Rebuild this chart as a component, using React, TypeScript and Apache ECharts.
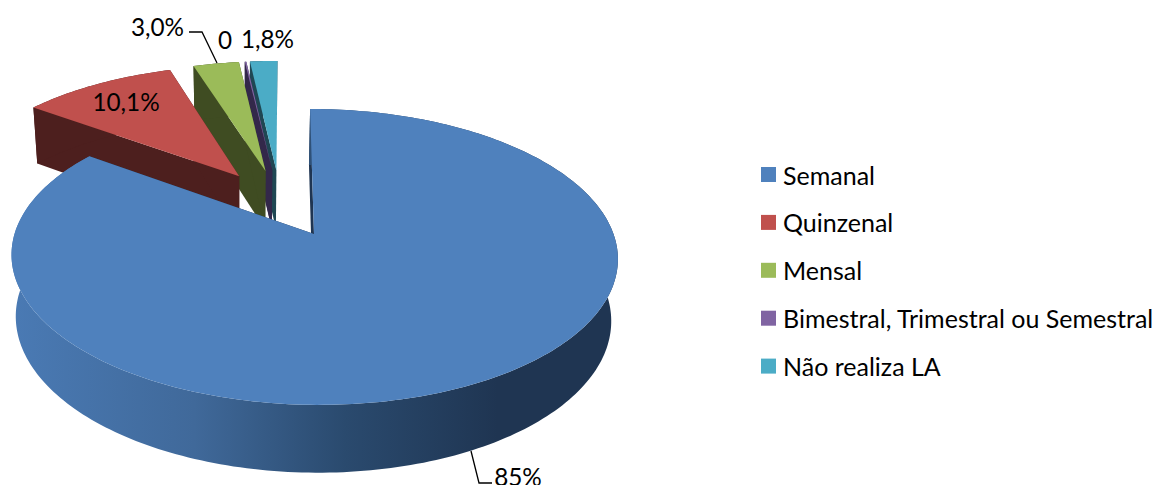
import React, { useEffect, useRef } from "react";
import * as echarts from "echarts";

const categories = ["Semanal", "Quinzenal", "Mensal", "Bimestral, Trimestral ou Semestral", "Não realiza LA"];
const values = [85, 10.1, 3.0, 0.1, 1.8];
const valueLabels = ["85%", "10,1%", "3,0%", "0", "1,8%"];

const topColors = ["#4f81bd", "#c0504d", "#9bbb59", "#8064a2", "#4bacc6"];
const wallColors = ["#1f3552", "#4d1f1e", "#3f4c22", "#33284a", "#1f4753"];

// perspective projection of the pie plane
const X0 = 314, Y0 = 234, A = 144.4, B = 299.5, D = 4.5, K = 0.155;
const EXPLODE = 0.25;
const FONT = "Lato, Carlito, Calibri, sans-serif";
const LEGEND_FONT_SIZE = 25;
const LABEL_FONT_SIZE = 24.3;

const total = values.reduce((a, b) => a + b, 0);
const starts: number[] = [];
values.reduce((acc, v, i) => { starts[i] = acc; return acc + v; }, 0);
const toRad = (pct: number) => (pct / total) * Math.PI * 2;
const dir = (t: number) => [Math.sin(t), -Math.cos(t)];
const bisector = (i: number) => toRad(starts[i] + values[i] / 2);
const anchor = dir(bisector(0));

const project = (u: number, v: number): [number, number] => {
  const w = 1 - K * v;
  return [X0 + (B * u + D * v) / w, Y0 + (A * v) / w];
};
const drop = (p: [number, number]): [number, number] => [
  p[0] + (X0 - p[0]) * 0.018 - 1.2,
  p[1] + 54 + (p[1] - 60) * 0.04,
];

const sliceShape = (i: number, value: number) => {
  const b = dir(bisector(i));
  const ou = EXPLODE * (b[0] - anchor[0]);
  const ov = EXPLODE * (b[1] - anchor[1]);
  const t0 = toRad(starts[i]);
  const t1 = t0 + toRad(value);
  const n = Math.max(2, Math.ceil((t1 - t0) / 0.02));
  const arc: [number, number][] = [];
  for (let s = 0; s <= n; s++) {
    const d = dir(t0 + ((t1 - t0) * s) / n);
    arc.push(project(ou + d[0], ov + d[1]));
  }
  return { apex: project(ou, ov), arc };
};

const renderSlice = (i: number) => (_: unknown, api: any) => {
  const { apex, arc } = sliceShape(i, api.value(0));
  const base = arc.map(drop);
  const apexB = drop(apex);
  const wallFill: any =
    i === 0
      ? new echarts.graphic.LinearGradient(12, 0, 619, 0, [
          { offset: 0, color: "#4a7ab4" },
          { offset: 0.3, color: "#40699a" },
          { offset: 0.55, color: "#2a4a6e" },
          { offset: 0.8, color: "#1f3552" },
          { offset: 1, color: "#1f3552" },
        ], true as any)
      : wallColors[i];
  const first = arc[0], last = arc[arc.length - 1];
  const radial = (p: [number, number]) => ({
    type: "polygon",
    shape: { points: [apex, p, drop(p), apexB] },
    style: { fill: wallColors[i] },
  });
  return {
    type: "group",
    children: [
      radial(first),
      radial(last),
      {
        type: "polygon",
        shape: { points: [...arc, ...base.slice().reverse()] },
        style: { fill: wallFill },
      },
      {
        type: "polygon",
        shape: { points: [apex, ...arc] },
        style: { fill: topColors[i] },
      },
    ],
  };
};

const labelAt: [number, number][] = [[518, 476.5], [126, 101], [157.5, 26], [225, 39], [267.5, 38.5]];

export default function App() {
  const ref = useRef<HTMLDivElement>(null);
  useEffect(() => {
    document.body.style.margin = "0";
    const chart = echarts.init(ref.current!, null, { renderer: "svg" });
    // paint from the back of the pie to the front
    const order = [4, 3, 2, 1, 0];
    chart.setOption({
      animation: false,
      backgroundColor: "#ffffff",
      legend: {
        data: categories,
        orient: "vertical",
        left: 761,
        top: 162,
        padding: 0,
        icon: "rect",
        itemWidth: 15,
        itemHeight: 15,
        itemGap: 22.9,
        selectedMode: false,
        textStyle: { fontFamily: FONT, fontSize: LEGEND_FONT_SIZE, color: "#000000", padding: [0, 0, 0, 2] },
      },
      series: order.map((i) => ({
        type: "custom",
        name: categories[i],
        coordinateSystem: "none",
        silent: true,
        itemStyle: { color: topColors[i] },
        data: [[values[i]]],
        renderItem: renderSlice(i),
      })),
      graphic: [
        {
          type: "polyline",
          shape: { points: [[189, 32], [202, 32], [217, 63]] },
          style: { stroke: "#000", lineWidth: 1.3, fill: "none" },
          silent: true,
          z: 20,
        },
        {
          type: "polyline",
          shape: { points: [[471, 451], [479, 483], [492, 483]] },
          style: { stroke: "#000", lineWidth: 1.3, fill: "none" },
          silent: true,
          z: 20,
        },
        ...valueLabels.map((t, i) => ({
          type: "text",
          x: labelAt[i][0],
          y: labelAt[i][1],
          silent: true,
          z: 21,
          style: {
            text: t,
            fill: "#000",
            font: `${LABEL_FONT_SIZE}px ${FONT}`,
            align: "center",
            verticalAlign: "middle",
          },
        })),
      ],
    });
    return () => chart.dispose();
  }, []);
  return <div ref={ref} style={{ position: "fixed", left: 0, top: 0, width: 1158, height: 485 }} />;
}
